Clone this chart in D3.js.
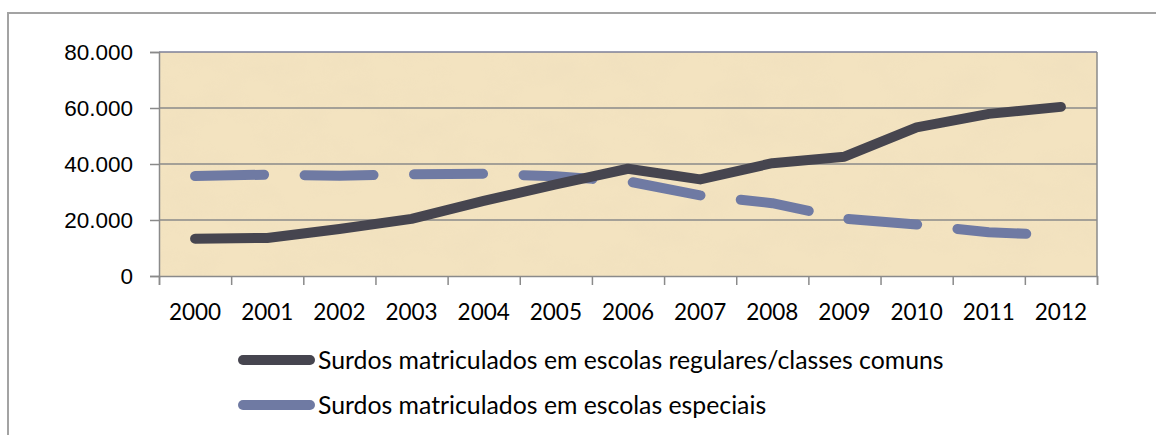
<!DOCTYPE html>
<html>
<head>
<meta charset="utf-8">
<script src="https://cdn.jsdelivr.net/npm/d3@7"></script>
<style>
  body { margin: 0; background: #fff; }
  svg { display: block; font-family: Lato, "Open Sans", sans-serif; }
</style>
</head>
<body>
<div id="chart"></div>
<script>
// matriculas de surdos, 2000-2012
const years = ['2000','2001','2002','2003','2004','2005','2006','2007','2008','2009','2010','2011','2012'];
const regulares = [13300, 13600, 16800, 20400, 26800, 32700, 38300, 34500, 40300, 42600, 53100, 57900, 60400];
const especiais = [35700, 36200, 35800, 36300, 36500, 35600, 33800, 28800, 26000, 20500, 18400, 15600, 14600];
const yTicks = [0, 20000, 40000, 60000, 80000];
const seriesNames = ['Surdos matriculados em escolas regulares/classes comuns', 'Surdos matriculados em escolas especiais'];

const W = 1156, H = 435;
const m = {left: 159, right: 59, top: 52, bottom: 159};
const iw = W - m.left - m.right, ih = H - m.top - m.bottom;
const darkColor = '#46454f', blueColor = '#6f7aa3', axisColor = '#8a8a8a';

const svg = d3.select('#chart').append('svg')
  .attr('width', W).attr('height', H);

// outer frame (right/bottom fall outside the picture)
svg.append('rect')
  .attr('x', 8).attr('y', 13).attr('width', W + 20).attr('height', H + 20)
  .attr('fill', 'none').attr('stroke', '#a3a3a3').attr('stroke-width', 2);

const defs = svg.append('defs');
const paper = defs.append('filter').attr('id', 'paper')
  .attr('x', 0).attr('y', 0).attr('width', 1).attr('height', 1);
paper.append('feTurbulence').attr('type', 'fractalNoise')
  .attr('baseFrequency', '0.018 0.03').attr('numOctaves', 4).attr('seed', 7);
paper.append('feColorMatrix').attr('type', 'matrix')
  .attr('values', '0 0 0 0 0.82  0 0 0 0 0.70  0 0 0 0 0.50  1.6 0 0 0 -0.62');

const plot = svg.append('g').attr('transform', 'translate(' + m.left + ',' + m.top + ')');

const x = d3.scaleLinear().domain([0, years.length]).range([0, iw]);
const y = d3.scaleLinear().domain([0, 80000]).range([ih, 0]);
const fmt = d3.formatLocale({decimal: ',', thousands: '.', grouping: [3], currency: ['', '']}).format(',.0f');

// background
plot.append('rect').attr('width', iw).attr('height', ih).attr('fill', '#f3e3c0');
plot.append('rect').attr('width', iw).attr('height', ih).attr('filter', 'url(#paper)').attr('opacity', 0.3);

// gridlines
plot.selectAll('.grid').data(yTicks.slice(1)).enter().append('line')
  .attr('class', 'grid')
  .attr('x1', 0).attr('x2', iw)
  .attr('y1', d => y(d)).attr('y2', d => y(d))
  .attr('stroke', d => d === 80000 ? '#7c7f98' : axisColor).attr('stroke-width', 1.5);

// right frame
plot.append('line').attr('x1', iw).attr('x2', iw).attr('y1', 0).attr('y2', ih)
  .attr('stroke', axisColor).attr('stroke-width', 1.5);

// y axis
const yAxis = plot.append('g')
  .call(d3.axisLeft(y).tickValues(yTicks).tickFormat(fmt).tickSize(9).tickPadding(17));
yAxis.select('.domain').attr('stroke', axisColor).attr('stroke-width', 1.5);
yAxis.selectAll('.tick line').attr('stroke', axisColor).attr('stroke-width', 1.5);
yAxis.selectAll('.tick text').attr('fill', '#000').style('font-size', '22.5px').attr('dy', '0.35em');

// x axis: ticks between categories, labels at centres
const xAxis = plot.append('g').attr('transform', 'translate(0,' + ih + ')')
  .call(d3.axisBottom(x).tickValues(d3.range(years.length + 1)).tickFormat('').tickSize(9));
xAxis.select('.domain').attr('stroke', axisColor).attr('stroke-width', 1.5);
xAxis.selectAll('.tick line').attr('stroke', axisColor).attr('stroke-width', 1.5);

plot.selectAll('.xlabel').data(years).enter().append('text')
  .attr('class', 'xlabel')
  .attr('x', (d, i) => x(i + 0.5))
  .attr('y', ih + 36)
  .attr('dy', '0.35em')
  .attr('text-anchor', 'middle')
  .style('font-size', '22.5px')
  .attr('fill', '#000')
  .text(d => d);

// lines
const line = d3.line()
  .x((d, i) => x(i + 0.5))
  .y(d => y(d));

plot.append('path').datum(especiais)
  .attr('d', line)
  .attr('fill', 'none')
  .attr('stroke', blueColor)
  .attr('stroke-width', 10)
  .attr('stroke-linecap', 'round')
  .attr('stroke-linejoin', 'round')
  .attr('stroke-dasharray', '69,40.5');

plot.append('path').datum(regulares)
  .attr('d', line)
  .attr('fill', 'none')
  .attr('stroke', darkColor)
  .attr('stroke-width', 10)
  .attr('stroke-linecap', 'round')
  .attr('stroke-linejoin', 'round');

// legend
const legend = svg.append('g').attr('class', 'legend');
const legendItems = legend.selectAll('g').data(seriesNames).enter().append('g')
  .attr('transform', (d, i) => 'translate(0,' + (360 + i * 45) + ')');
legendItems.append('line')
  .attr('x1', 243).attr('x2', 310).attr('y1', 0).attr('y2', 0)
  .attr('stroke', (d, i) => i === 0 ? darkColor : blueColor)
  .attr('stroke-width', 10).attr('stroke-linecap', 'round');
legendItems.append('text')
  .attr('x', 318).attr('y', 0).attr('dy', '0.35em')
  .style('font-size', '24.8px')
  .attr('fill', '#000')
  .text(d => d);
</script>
</body>
</html>
